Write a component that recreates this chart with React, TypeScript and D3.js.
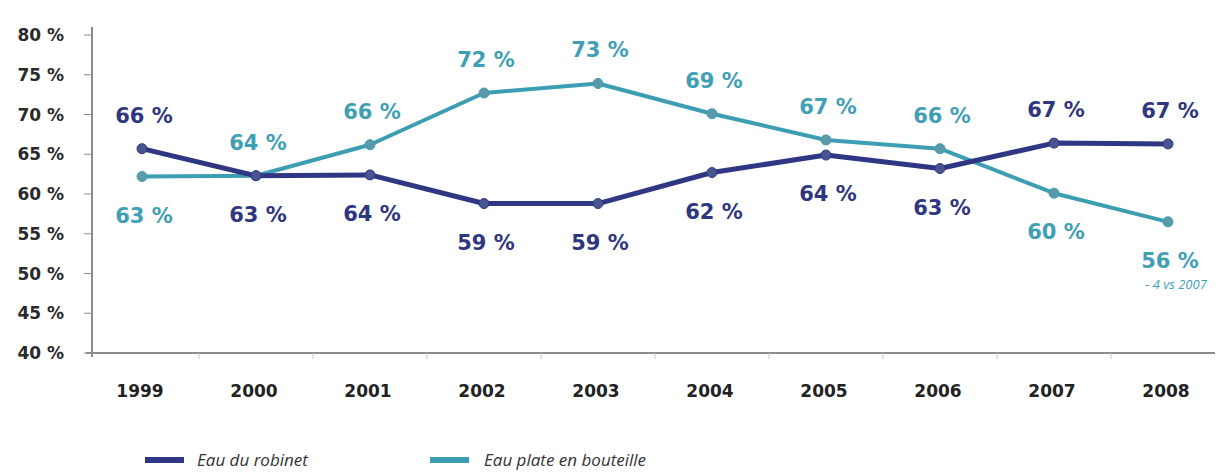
import React from "react";
import * as d3 from "d3";

const years = ["1999", "2000", "2001", "2002", "2003", "2004", "2005", "2006", "2007", "2008"];
const robinetValues = [65.7, 62.3, 62.4, 58.8, 58.8, 62.7, 64.9, 63.2, 66.4, 66.3];
const bouteilleValues = [62.2, 62.3, 66.2, 72.7, 73.9, 70.1, 66.8, 65.7, 60.1, 56.5];
const robinetLabels = ["66 %", "63 %", "64 %", "59 %", "59 %", "62 %", "64 %", "63 %", "67 %", "67 %"];
const bouteilleLabels = ["63 %", "64 %", "66 %", "72 %", "73 %", "69 %", "67 %", "66 %", "60 %", "56 %"];
// label placement: 1 = above the point, -1 = below
const robinetLabelSide = [1, -1, -1, -1, -1, -1, -1, -1, 1, 1];
const bouteilleLabelSide = [-1, 1, 1, 1, 1, 1, 1, 1, -1, -1];
const yTicks = [40, 45, 50, 55, 60, 65, 70, 75, 80];
const seriesNames = ["Eau du robinet", "Eau plate en bouteille"];
const annotationText = "- 4 vs 2007";

const W = 1226;
const H = 474;
const ROBINET = "#2f3784";
const ROBINET_MARK = "#4a5490";
const BOUTEILLE = "#3d9db2";
const BOUTEILLE_MARK = "#5a9aa8";
const AXIS = "#8c8c8c";

export default function App() {
  const x = d3.scalePoint<string>().domain(years).range([142, 1168]);
  const step = x.step();
  const y = d3.scaleLinear().domain([40, 80]).range([353, 35]);
  const line = d3
    .line<number>()
    .x((_, i) => x(years[i]) as number)
    .y((d) => y(d));

  const labelFont = "'DejaVu Sans', sans-serif";

  const renderSeries = (
    values: number[],
    labels: string[],
    sides: number[],
    color: string,
    mark: string,
    width: number,
    labelColor: string
  ) => (
    <g>
      <path d={line(values) || ""} fill="none" stroke={color} strokeWidth={width} strokeLinejoin="round" />
      {values.map((v, i) => (
        <circle key={"m" + i} cx={x(years[i])} cy={y(v)} r={5} fill={mark} stroke={color} strokeWidth={1} />
      ))}
      {values.map((v, i) => (
        <text
          key={"l" + i}
          x={(x(years[i]) as number) + 2}
          y={y(v) + (sides[i] > 0 ? -26 : 46)}
          textAnchor="middle"
          fontFamily={labelFont}
          fontWeight="bold"
          fontSize={21}
          fill={labelColor}
        >
          {labels[i]}
        </text>
      ))}
    </g>
  );

  const xBoundaries = years.slice(0, -1).map((yr) => (x(yr) as number) + step / 2);

  return (
    <svg
      width={W}
      height={H}
      style={{ position: "absolute", left: 0, top: 0, background: "#fff" }}
      xmlns="http://www.w3.org/2000/svg"
    >
      <rect width={W} height={H} fill="#fff" />
      {/* y axis */}
      <line x1={92} x2={92} y1={y(80) - 8} y2={y(40) + 4} stroke={AXIS} strokeWidth={2} />
      {yTicks.map((t) => (
        <g key={t}>
          <line x1={84} x2={92} y1={y(t)} y2={y(t)} stroke={AXIS} strokeWidth={1} />
          <text
            x={64}
            y={y(t) + 6}
            textAnchor="end"
            fontFamily={labelFont}
            fontWeight="bold"
            fontSize={17}
            fill="#2a2a2a"
          >
            {t} %
          </text>
        </g>
      ))}
      {/* x axis */}
      <line x1={86} x2={1215} y1={y(40)} y2={y(40)} stroke={AXIS} strokeWidth={2} />
      {xBoundaries.map((bx, i) => (
        <line key={i} x1={bx} x2={bx} y1={y(40)} y2={y(40) + 6} stroke="#c8c8c8" strokeWidth={1} />
      ))}
      {years.map((yr) => (
        <text
          key={yr}
          x={(x(yr) as number) - 2}
          y={397}
          textAnchor="middle"
          fontFamily={labelFont}
          fontWeight="bold"
          fontSize={17}
          fill="#222"
        >
          {yr}
        </text>
      ))}

      {renderSeries(bouteilleValues, bouteilleLabels, bouteilleLabelSide, BOUTEILLE, BOUTEILLE_MARK, 4, "#3f9fb5")}
      {renderSeries(robinetValues, robinetLabels, robinetLabelSide, ROBINET, ROBINET_MARK, 5, "#2f3680")}

      <text
        x={(x("2008") as number) + 8}
        y={289}
        textAnchor="middle"
        fontFamily="'Open Sans', sans-serif"
        fontStyle="italic"
        fontSize={13}
        fill="#3f9fb5"
      >
        {annotationText}
      </text>

      {/* legend */}
      <line x1={145} x2={184} y1={460} y2={460} stroke={ROBINET} strokeWidth={6} />
      <text x={197} y={466} fontFamily="'Open Sans', sans-serif" fontStyle="italic" fontSize={17} fill="#333">
        {seriesNames[0]}
      </text>
      <line x1={430} x2={469} y1={460} y2={460} stroke={BOUTEILLE} strokeWidth={6} />
      <text x={484} y={466} fontFamily="'Open Sans', sans-serif" fontStyle="italic" fontSize={17} fill="#333">
        {seriesNames[1]}
      </text>
    </svg>
  );
}
